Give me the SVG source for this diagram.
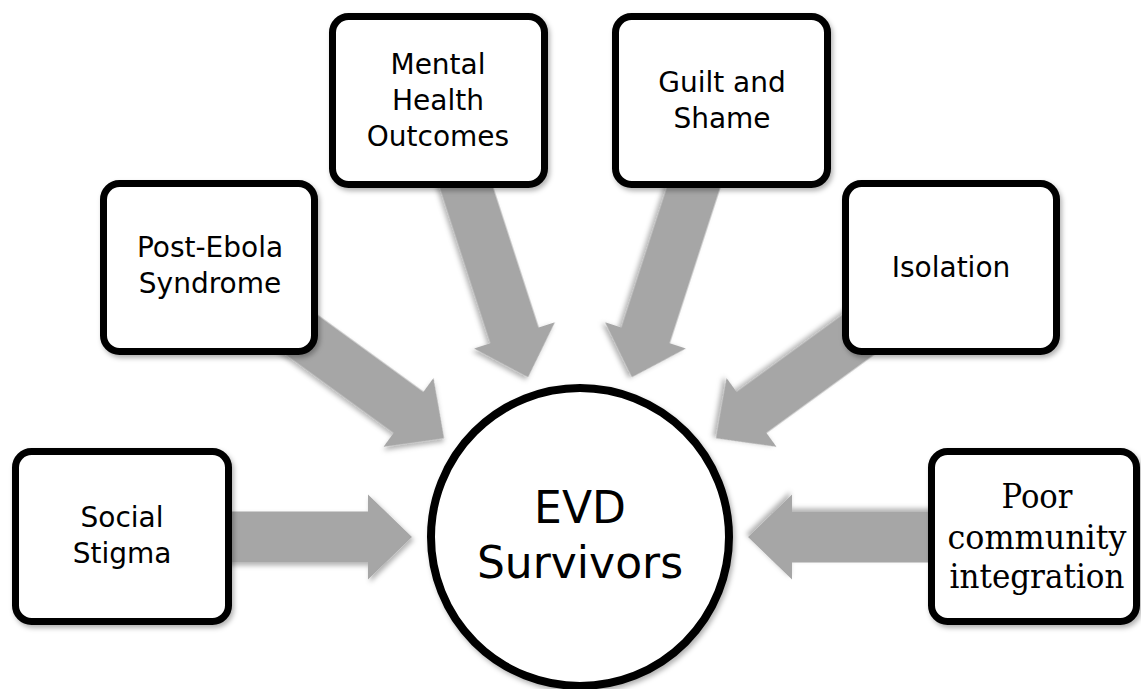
<svg xmlns="http://www.w3.org/2000/svg" width="1141" height="689" viewBox="0 0 1141 689">
  <defs>
    <filter id="shadow" x="-20%" y="-20%" width="140%" height="140%">
      <feDropShadow dx="2" dy="3" stdDeviation="2.5" flood-color="#000" flood-opacity="0.3"/>
    </filter>
    <path id="arrow" d="M0,0 L-44,-42.5 L-44,-25.5 L-215,-25.5 L-215,25.5 L-44,25.5 L-44,42.5 Z"/>
  </defs>
  <style>
    .box { fill: #ffffff; stroke: #000000; stroke-width: 7; filter: url(#shadow); }
    .hub { fill: #ffffff; stroke: #000000; stroke-width: 8; filter: url(#shadow); }
    .arr { fill: #a6a6a6; filter: url(#shadow); }
    .lbl { font-family: "DejaVu Sans", "Liberation Sans", sans-serif; font-size: 28px; fill: #000000; text-anchor: middle; }
    .hubl { font-family: "DejaVu Sans", "Liberation Sans", sans-serif; font-size: 44px; fill: #000000; text-anchor: middle; }
    .serif { font-family: "DejaVu Serif", "Liberation Serif", serif; font-size: 33px; fill: #000000; text-anchor: middle; }
  </style>
  <rect width="1141" height="689" fill="#ffffff"/>

  <g id="connectors">
    <use href="#arrow" class="arr" transform="translate(580,537) rotate(180) translate(168,0) rotate(180)"/>
    <use href="#arrow" class="arr" transform="translate(580,537) rotate(216) translate(168,0) rotate(180)"/>
    <use href="#arrow" class="arr" transform="translate(580,537) rotate(252) translate(168,0) rotate(180)"/>
    <use href="#arrow" class="arr" transform="translate(580,537) rotate(288) translate(168,0) rotate(180)"/>
    <use href="#arrow" class="arr" transform="translate(580,537) rotate(324) translate(168,0) rotate(180)"/>
    <use href="#arrow" class="arr" transform="translate(580,537) rotate(0) translate(168,0) rotate(180)"/>
  </g>

  <g id="node-evd-survivors">
    <circle class="hub" cx="580" cy="537" r="149"/>
    <text class="hubl" x="580" y="523">EVD</text>
    <text class="hubl" x="580" y="578">Survivors</text>
  </g>

  <g id="node-social-stigma">
    <rect class="box" x="15.5" y="451.5" width="213" height="170" rx="16"/>
    <text class="lbl" x="122" y="527">Social</text>
    <text class="lbl" x="122" y="563">Stigma</text>
  </g>

  <g id="node-post-ebola">
    <rect class="box" x="103.5" y="183.5" width="211" height="168" rx="16"/>
    <text class="lbl" x="210" y="257">Post-Ebola</text>
    <text class="lbl" x="210" y="293">Syndrome</text>
  </g>

  <g id="node-mental-health">
    <rect class="box" x="332.5" y="16.5" width="212" height="168" rx="16"/>
    <text class="lbl" x="438" y="74">Mental</text>
    <text class="lbl" x="438" y="110">Health</text>
    <text class="lbl" x="438" y="146">Outcomes</text>
  </g>

  <g id="node-guilt-shame">
    <rect class="box" x="615.5" y="16.5" width="212" height="168" rx="16"/>
    <text class="lbl" x="722" y="92">Guilt and</text>
    <text class="lbl" x="722" y="128">Shame</text>
  </g>

  <g id="node-isolation">
    <rect class="box" x="845.5" y="183.5" width="211" height="168" rx="16"/>
    <text class="lbl" x="951" y="277">Isolation</text>
  </g>

  <g id="node-poor-community">
    <rect class="box" x="931.5" y="451.5" width="205" height="170" rx="16"/>
    <text class="serif" x="1037" y="508" textLength="71" lengthAdjust="spacingAndGlyphs">Poor</text>
    <text class="serif" x="1037" y="549" textLength="179" lengthAdjust="spacingAndGlyphs">community</text>
    <text class="serif" x="1037" y="588" textLength="175" lengthAdjust="spacingAndGlyphs">integration</text>
  </g>
</svg>
